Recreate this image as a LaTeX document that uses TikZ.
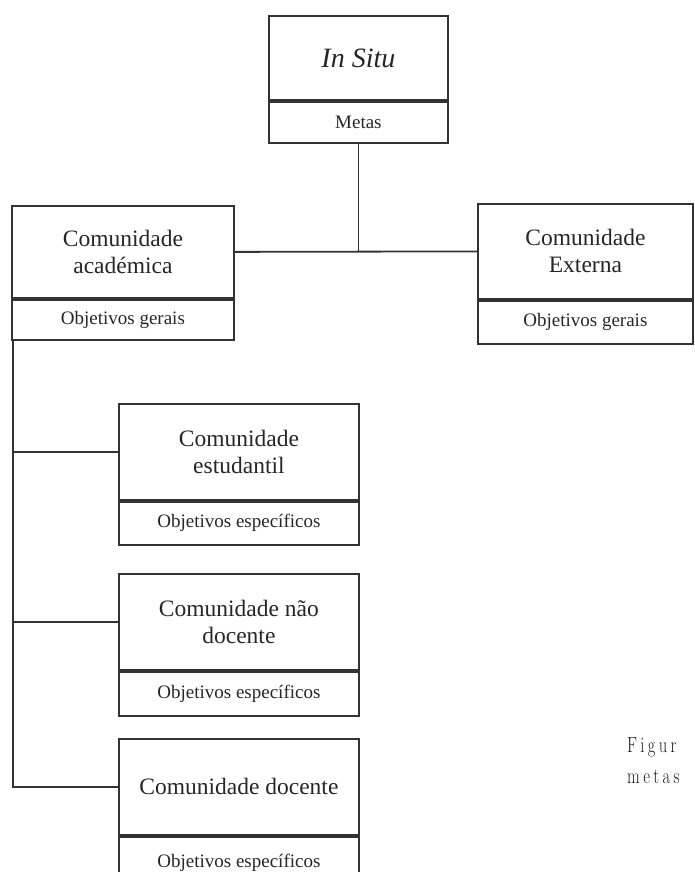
\documentclass[tikz,border=0pt]{standalone}
\usepackage{fontspec}
\setmainfont{Liberation Serif}
\newfontfamily\capfont{Latin Modern Roman}
\begin{document}
\begin{tikzpicture}[x=1pt,y=-1pt,
  boxt/.style={draw=black!80, line width=1.8pt, rectangle, inner sep=0pt, anchor=north west,
    align=center, font=\fontsize{23.5}{27}\selectfont, text=black!85},
  boxb/.style={draw=black!80, line width=1.8pt, rectangle, inner sep=0pt, anchor=north west,
    align=center, font=\fontsize{19}{22}\selectfont, text=black!85},
  conn/.style={draw=black!80, line width=1.8pt},
  captext/.style={font=\capfont\fontsize{22}{26}\selectfont, anchor=base west, xscale=0.75, inner sep=0pt, text=black!90}]
\useasboundingbox (0,0) rectangle (694,872);
\clip (0,0) rectangle (694,872);
% top box
\node[boxt, minimum width=179pt, minimum height=84pt, font=\itshape\fontsize{28}{32}\selectfont] (insitu) at (268,15) {In Situ};
\node[boxb, minimum width=179pt, minimum height=41pt] (insitub) at (insitu.south west) {Metas};
% level 2
\node[boxt, minimum width=222pt, minimum height=92pt] (acad) at (11,205) {Comunidade\\académica};
\node[boxb, minimum width=222pt, minimum height=40pt] (acadb) at (acad.south west) {Objetivos gerais};
\node[boxt, minimum width=215pt, minimum height=95pt] (ext) at (477,203) {Comunidade\\Externa};
\node[boxb, minimum width=215pt, minimum height=43pt] (extb) at (ext.south west) {Objetivos gerais};
% level 3
\node[boxt, minimum width=240pt, minimum height=96pt] (est) at (118,403) {Comunidade\\estudantil};
\node[boxb, minimum width=240pt, minimum height=43pt] (estb) at (est.south west) {Objetivos específicos};
\node[boxt, minimum width=240pt, minimum height=96pt] (nao) at (118,573) {Comunidade não\\docente};
\node[boxb, minimum width=240pt, minimum height=44pt] (naob) at (nao.south west) {Objetivos específicos};
\node[boxt, minimum width=240pt, minimum height=96pt] (doc) at (118,738) {Comunidade docente};
\node[boxb, minimum width=240pt, minimum height=52pt] (docb) at (doc.south west) {Objetivos específicos};
% connectors
\coordinate (junc) at (insitub.south |- acad.east);
\draw[conn] (insitub.south) -- (junc);
\draw[conn] (acad.east) -- (ext.west);
\coordinate (spinetop) at ([xshift=2pt]acadb.south west);
\draw[conn] (spinetop) |- (doc.west);
\draw[conn] (est.west) -- (est.west -| spinetop);
\draw[conn] (nao.west) -- (nao.west -| spinetop);
% caption fragment
\node[captext] (cap1) at (627,752) {F\hspace{4.5pt}i\hspace{4.5pt}g\hspace{4.5pt}u\hspace{4.5pt}r};
\node[captext] (cap2) at (627,783) {m\hspace{4.5pt}e\hspace{4.5pt}t\hspace{4.5pt}a\hspace{4.5pt}s};
\end{tikzpicture}
\end{document}
